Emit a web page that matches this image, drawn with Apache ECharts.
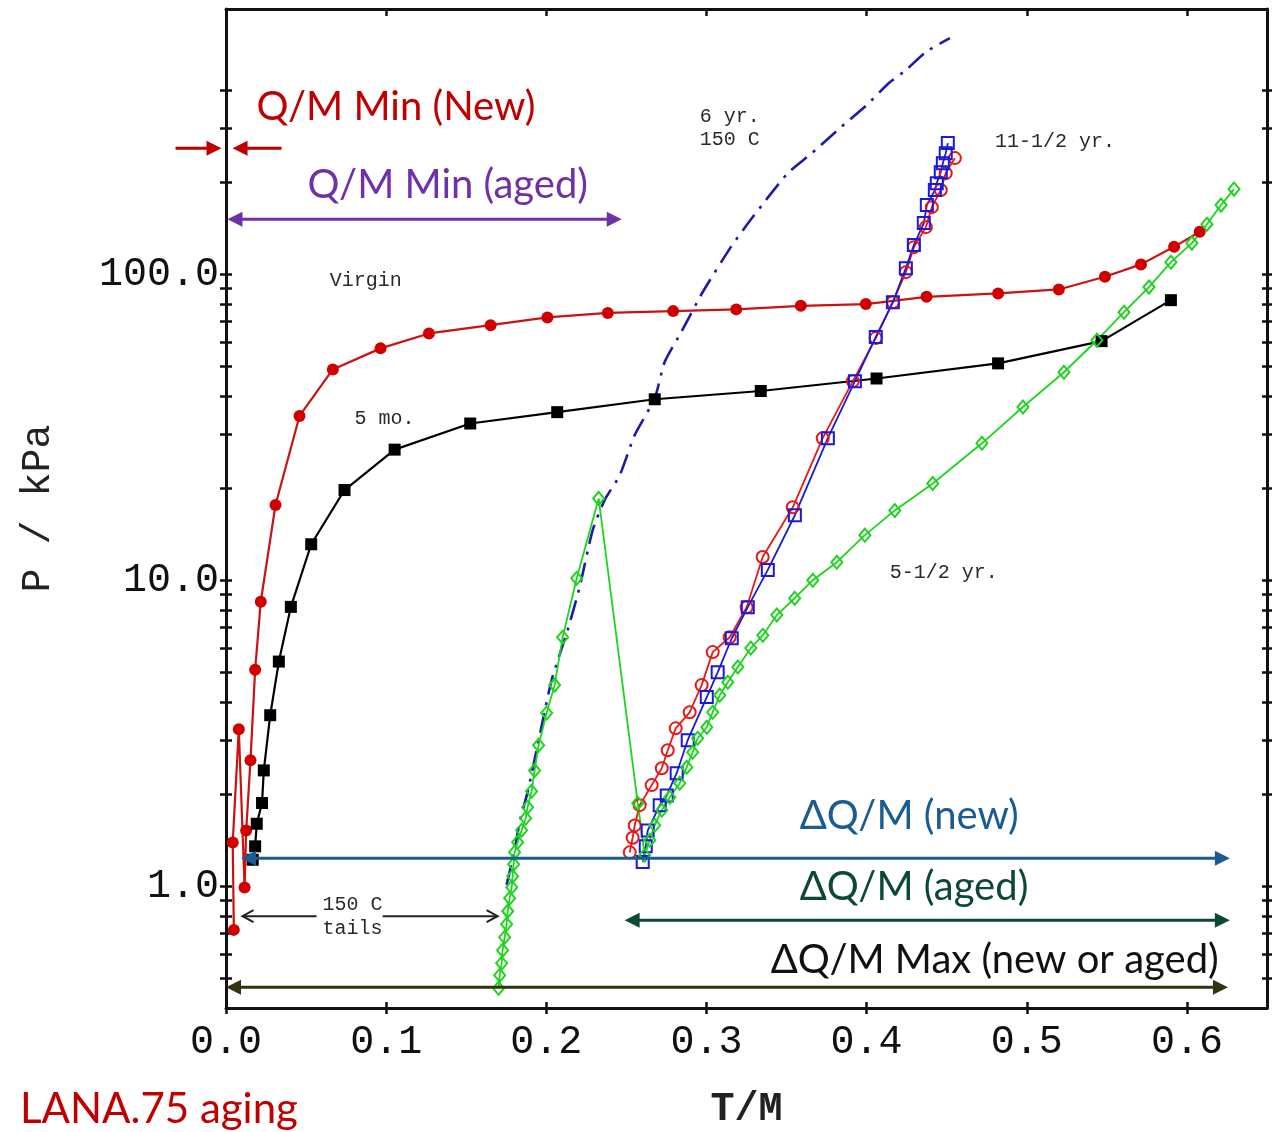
<!DOCTYPE html>
<html>
<head>
<meta charset="utf-8">
<title>LANA.75 aging</title>
<script src="https://cdn.jsdelivr.net/npm/echarts@6/dist/echarts.min.js"></script>
<style>
  html, body { margin: 0; padding: 0; background: #fff; }
  #chart { width: 1286px; height: 1132px; }
</style>
</head>
<body>
<div id="chart"></div>
<script>
// Pressure (kPa, log scale) versus T/M for LaNi4.25Al0.75 samples of different age.

// Virgin material, filled circles  [T/M, P]
const virgin = [
  [0.0049, 0.72], [0.0042, 1.39], [0.0080, 3.26], [0.0116, 0.99], [0.0126, 1.52],
  [0.0153, 2.58], [0.0182, 5.1], [0.0217, 8.5], [0.0309, 17.6], [0.0459, 34.4],
  [0.0667, 48.8], [0.0965, 57.2], [0.1267, 64.0], [0.1652, 68.1], [0.2007, 72.2],
  [0.2384, 74.7], [0.2792, 75.7], [0.3186, 76.7], [0.3589, 78.8], [0.3995, 79.8],
  [0.4374, 84.3], [0.4821, 86.5], [0.5200, 89.1], [0.5488, 98.0], [0.5713, 107.6],
  [0.5920, 122.8], [0.6080, 137.5]
];

// 5 months, filled squares
const fiveMonths = [
  [0.0167, 1.22], [0.0182, 1.35], [0.0192, 1.60], [0.0225, 1.87], [0.0236, 2.39],
  [0.0276, 3.62], [0.0330, 5.42], [0.0405, 8.18], [0.0532, 13.1], [0.0740, 19.7],
  [0.1053, 26.7], [0.1525, 32.5], [0.2068, 35.4], [0.2677, 39.0], [0.3339, 41.5],
  [0.4062, 45.6], [0.4821, 51.1], [0.5467, 60.4], [0.5900, 82.2]
];

// 6 years at 150 C, dash-dot curve
const sixYears150C = [
  [0.1752, 1.01], [0.1802, 1.31], [0.1833, 1.62], [0.1883, 2.03], [0.1946, 2.89],
  [0.2033, 4.71], [0.2133, 6.87], [0.2208, 9.49], [0.2290, 14.6], [0.2365, 18.3],
  [0.2458, 22.0], [0.2552, 29.8], [0.2677, 39.3], [0.2739, 51.6], [0.2839, 64.2],
  [0.2977, 87.4], [0.3152, 122.5], [0.3289, 153.6], [0.3508, 213.8], [0.3658, 248.5],
  [0.3839, 302], [0.4001, 357], [0.4139, 421], [0.4245, 464], [0.4370, 532], [0.4520, 590]
];

// 11-1/2 years, open circles
const elevenYearsCircles = [
  [0.2521, 1.29], [0.2539, 1.44], [0.2552, 1.58], [0.2583, 1.84], [0.2658, 2.14],
  [0.2721, 2.43], [0.2758, 2.78], [0.2808, 3.28], [0.2895, 3.70], [0.2970, 4.54],
  [0.3039, 5.82], [0.3145, 6.51], [0.3251, 8.16], [0.3351, 11.9], [0.3539, 17.3],
  [0.3726, 29.1], [0.3914, 44.7], [0.4057, 61.8], [0.4164, 81.0], [0.4245, 101.5],
  [0.4295, 122.5], [0.4370, 142.4], [0.4407, 165.5], [0.4463, 188.2], [0.4494, 213.8],
  [0.4551, 239.4]
];

// 11-1/2 years, open squares
const elevenYearsSquares = [
  [0.2602, 1.20], [0.2621, 1.35], [0.2633, 1.52], [0.2708, 1.84], [0.2752, 1.98],
  [0.2814, 2.34], [0.2883, 3.00], [0.3002, 4.15], [0.3070, 5.00], [0.3158, 6.46],
  [0.3258, 8.16], [0.3383, 10.8], [0.3552, 16.3], [0.3758, 29.1], [0.3927, 44.7],
  [0.4057, 62.3], [0.4164, 81.0], [0.4245, 104.6], [0.4295, 124.4], [0.4357, 146.8],
  [0.4376, 168.1], [0.4426, 188.2], [0.4438, 198.3], [0.4463, 215.4], [0.4476, 230.5],
  [0.4494, 248.5], [0.4507, 268]
];

// 5-1/2 years, open diamonds
const fiveHalfYears = [
  [0.1702, 0.464], [0.1709, 0.512], [0.1721, 0.560], [0.1727, 0.618], [0.1740, 0.681],
  [0.1752, 0.751], [0.1759, 0.829], [0.1771, 0.914], [0.1784, 0.992], [0.1790, 1.078],
  [0.1796, 1.180], [0.1802, 1.291], [0.1821, 1.393], [0.1846, 1.524], [0.1871, 1.668],
  [0.1883, 1.812], [0.1908, 2.044], [0.1927, 2.39], [0.1952, 2.89], [0.2002, 3.68],
  [0.2052, 4.54], [0.2102, 6.51], [0.2190, 10.15], [0.2327, 18.5],
  [0.2571, 1.867], [0.2614, 1.263], [0.2646, 1.413], [0.2677, 1.582], [0.2721, 1.772],
  [0.2771, 1.954], [0.2833, 2.171], [0.2877, 2.448], [0.2914, 2.741], [0.2945, 3.045],
  [0.3002, 3.308], [0.3039, 3.704], [0.3083, 4.21], [0.3133, 4.64], [0.3196, 5.20],
  [0.3277, 6.00], [0.3352, 6.61], [0.3439, 7.69], [0.3551, 8.73], [0.3664, 10.0],
  [0.3814, 11.45], [0.3989, 14.03], [0.4176, 16.9], [0.4413, 20.7], [0.4720, 28.0],
  [0.4976, 36.8], [0.5232, 47.8], [0.5438, 60.8], [0.5607, 75.1], [0.5763, 90.7],
  [0.5900, 109.4], [0.6031, 126.3], [0.6125, 145.6], [0.6213, 168.1], [0.6294, 189.6]
];

// Axis ticks and labels
const xTickLabels = [0, 0.1, 0.2, 0.3, 0.4, 0.5, 0.6];
const xTicks = [0, 0.1, 0.2, 0.3, 0.4, 0.5, 0.6];
const yTickLabels = [1, 10, 100];
const yTicks = [0.5, 0.6, 0.7, 0.8, 0.9, 1, 2, 3, 4, 5, 6, 7, 8, 9,
                10, 20, 30, 40, 50, 60, 70, 80, 90, 100, 200, 300, 400];

// Range arrows drawn over the plot, in data units [T/M from, T/M to, P]
const rangeArrows = [
  { from: -0.0315, to: -0.0028, p: 258, heads: 'end', color: '#c00000' },
  { from: 0.0347, to: 0.0041, p: 258, heads: 'end', color: '#c00000' },
  { from: 0.0009, to: 0.2471, p: 151, heads: 'both', color: '#7030a8' },
  { from: 0.0094, to: 0.6268, p: 1.234, heads: 'both', color: '#1a5c91' },
  { from: 0.2489, to: 0.6268, p: 0.774, heads: 'both', color: '#0b4a30' },
  { from: 0.0000, to: 0.6256, p: 0.468, heads: 'both', color: '#33330f' },
  { from: 0.0565, to: 0.0103, p: 0.798, heads: 'end', color: '#222', open: true },
  { from: 0.0978, to: 0.1696, p: 0.798, heads: 'end', color: '#222', open: true }
];

// Curve labels (monospace) anchored at their left edge
const curveLabels = [
  { text: 'Virgin', x: 0.0648, p: 94.9 },
  { text: '5 mo.', x: 0.0803, p: 33.8 },
  { text: '6 yr.', x: 0.2958, p: 326 },
  { text: '150 C', x: 0.2958, p: 274 },
  { text: '11-1/2 yr.', x: 0.4801, p: 270 },
  { text: '5-1/2 yr.', x: 0.4144, p: 10.54 },
  { text: '150 C', x: 0.0603, p: 0.867 },
  { text: 'tails', x: 0.0603, p: 0.729 }
];

// Range captions
const rangeCaptions = [
  { text: 'Q/M Min (New)', x: 0.0190, p: 351, color: '#c00000' },
  { text: 'Q/M Min (aged)', x: 0.0509, p: 195.4, color: '#7030a8' },
  { text: '\u0394Q/M (new)', x: 0.3582, p: 1.693, color: '#1a5c91' },
  { text: '\u0394Q/M (aged)', x: 0.3582, p: 0.992, color: '#0b4a30' },
  { text: '\u0394Q/M Max (new or aged)', x: 0.3401, p: 0.573, color: '#111' }
];

const MONO = '"Liberation Mono", "DejaVu Sans Mono", monospace';
const SANS = 'Lato, "Noto Sans", "Open Sans", sans-serif';
const AXIS_COLOR = '#111';

const X_MIN = 0, X_MAX = 0.65;
const Y_MIN = 0.4, Y_MAX = 735;

function xAxisDef(extra) {
  return Object.assign({
    type: 'value', min: X_MIN, max: X_MAX, gridIndex: 0,
    splitLine: { show: false },
    axisLine: { show: false, onZero: false },
    axisLabel: { show: false },
    axisTick: { show: true, customValues: xTicks, length: 6, lineStyle: { color: AXIS_COLOR, width: 2.5 } }
  }, extra);
}
function yAxisDef(extra) {
  return Object.assign({
    type: 'log', logBase: 10, min: Y_MIN, max: Y_MAX, gridIndex: 0,
    splitLine: { show: false },
    axisLine: { show: false, onZero: false },
    axisLabel: { show: false },
    axisTick: { show: true, customValues: yTicks, length: 6, lineStyle: { color: AXIS_COLOR, width: 2.5 } }
  }, extra);
}

const option = {
  backgroundColor: '#fff',
  animation: false,
  grid: { left: 226, right: 19, top: 9, bottom: 124, containLabel: false, outerBoundsMode: 'none' },
  xAxis: [
    xAxisDef({
      position: 'bottom',
      axisLine: { show: true, onZero: false, lineStyle: { color: AXIS_COLOR, width: 3 } },
      axisTick: { show: true, inside: false, customValues: xTicks, length: 6, lineStyle: { color: AXIS_COLOR, width: 2.5 } },
      axisLabel: {
        show: true, customValues: xTickLabels, margin: 14,
        fontFamily: MONO, fontSize: 40, color: '#111',
        formatter: v => Number(v).toFixed(1)
      },
      name: 'T/M', nameLocation: 'middle', nameGap: 82,
      nameTextStyle: { fontFamily: MONO, fontSize: 40, fontWeight: 'bold', color: '#222' }
    }),
    xAxisDef({ position: 'bottom', axisTick: { show: true, inside: true, customValues: xTicks, length: 6, lineStyle: { color: AXIS_COLOR, width: 2.5 } } }),
    xAxisDef({
      position: 'top',
      axisLine: { show: true, onZero: false, lineStyle: { color: AXIS_COLOR, width: 3 } },
      axisTick: { show: true, inside: true, customValues: xTicks, length: 7, lineStyle: { color: AXIS_COLOR, width: 2.5 } }
    })
  ],
  yAxis: [
    yAxisDef({
      position: 'left',
      axisLine: { show: true, onZero: false, lineStyle: { color: AXIS_COLOR, width: 3 } },
      axisTick: { show: true, inside: false, customValues: yTicks, length: 6, lineStyle: { color: AXIS_COLOR, width: 2.5 } },
      axisLabel: {
        show: true, customValues: yTickLabels, margin: 7,
        fontFamily: MONO, fontSize: 40, color: '#111',
        formatter: v => Number(v).toFixed(1)
      },
      name: 'P / kPa', nameLocation: 'middle', nameRotate: 90, nameGap: 168,
      nameTextStyle: { fontFamily: MONO, fontSize: 40, color: '#222' }
    }),
    yAxisDef({ position: 'left', axisTick: { show: true, inside: true, customValues: yTicks, length: 6, lineStyle: { color: AXIS_COLOR, width: 2.5 } } }),
    yAxisDef({
      position: 'right',
      axisLine: { show: true, onZero: false, lineStyle: { color: AXIS_COLOR, width: 3 } },
      axisTick: { show: true, inside: true, customValues: yTicks, length: 5, lineStyle: { color: AXIS_COLOR, width: 2.5 } }
    }),
    yAxisDef({ position: 'right', axisTick: { show: true, inside: false, customValues: yTicks, length: 5, lineStyle: { color: AXIS_COLOR, width: 2.5 } } })
  ],
  series: [
    {
      name: 'Virgin', type: 'line', data: virgin, xAxisIndex: 0, yAxisIndex: 0,
      symbol: 'circle', symbolSize: 12,
      itemStyle: { color: '#d00000' },
      lineStyle: { color: '#cc1111', width: 2.2 }
    },
    {
      name: '5 mo.', type: 'line', data: fiveMonths, xAxisIndex: 0, yAxisIndex: 0,
      symbol: 'rect', symbolSize: 12,
      itemStyle: { color: '#000' },
      lineStyle: { color: '#000', width: 2.2 }
    },
    {
      name: '6 yr. 150 C', type: 'line', data: sixYears150C, xAxisIndex: 0, yAxisIndex: 0,
      symbol: 'none', smooth: 0.2,
      lineStyle: { color: '#1c1ca6', width: 2.6, type: [20, 8, 3, 8] }
    },
    {
      name: '11-1/2 yr. (circles)', type: 'line', data: elevenYearsCircles, xAxisIndex: 0, yAxisIndex: 0,
      symbol: 'circle', symbolSize: 12,
      itemStyle: { color: 'rgba(0,0,0,0)', borderColor: '#e81818', borderWidth: 2 },
      lineStyle: { color: '#e81818', width: 1.8 }
    },
    {
      name: '11-1/2 yr. (squares)', type: 'line', data: elevenYearsSquares, xAxisIndex: 0, yAxisIndex: 0,
      symbol: 'rect', symbolSize: 12,
      itemStyle: { color: 'rgba(0,0,0,0)', borderColor: '#1a1ad8', borderWidth: 2 },
      lineStyle: { color: '#1a1ad8', width: 1.8 }
    },
    {
      name: '5-1/2 yr.', type: 'line', data: fiveHalfYears, xAxisIndex: 0, yAxisIndex: 0,
      symbol: 'diamond', symbolSize: [11, 13],
      itemStyle: { color: 'rgba(0,0,0,0)', borderColor: '#1ed41e', borderWidth: 2 },
      lineStyle: { color: '#1ed41e', width: 1.8 }
    }
  ]
};

const chart = echarts.init(document.getElementById('chart'), null, { renderer: 'canvas' });
chart.setOption(option);

// Overlay arrows and captions, positioned through the chart's own axes
function toPx(x, p) {
  return chart.convertToPixel({ xAxisIndex: 0, yAxisIndex: 0 }, [x, p]);
}

function arrowElements(a) {
  const els = [];
  const s = toPx(a.from, a.p), e = toPx(a.to, a.p);
  const len = a.open ? 11 : 15, half = a.open ? 6 : 7.5;
  const lw = a.open ? 2 : 3;
  const dir = Math.sign(e[0] - s[0]) || 1;
  let x1 = s[0], x2 = e[0];
  const y = s[1];
  const head = (tipX, d) => {
    if (a.open) {
      els.push({ type: 'polyline', silent: true, z: 100,
        shape: { points: [[tipX - d * len, y - half], [tipX, y], [tipX - d * len, y + half]] },
        style: { stroke: a.color, lineWidth: lw, fill: null } });
    } else {
      els.push({ type: 'polygon', silent: true, z: 100,
        shape: { points: [[tipX, y], [tipX - d * len, y - half], [tipX - d * len, y + half]] },
        style: { fill: a.color } });
    }
  };
  if (a.heads === 'end' || a.heads === 'both') {
    head(x2, dir);
    if (!a.open) x2 -= dir * (len - 2);
  }
  if (a.heads === 'both') {
    head(x1, -dir);
    x1 += dir * (len - 2);
  }
  els.unshift({ type: 'line', silent: true, z: 99,
    shape: { x1: x1, y1: y, x2: x2, y2: y },
    style: { stroke: a.color, lineWidth: lw } });
  return els;
}

const overlay = [];
rangeArrows.forEach(a => overlay.push(...arrowElements(a)));
curveLabels.forEach(t => {
  const pt = toPx(t.x, t.p);
  overlay.push({ type: 'text', silent: true, z: 101, x: pt[0], y: pt[1],
    style: { text: t.text, fontFamily: MONO, fontSize: 20, fill: '#2a2a2a', align: 'left', verticalAlign: 'middle' } });
});
rangeCaptions.forEach(t => {
  const pt = toPx(t.x, t.p);
  overlay.push({ type: 'text', silent: true, z: 101, x: pt[0], y: pt[1],
    style: { text: t.text, fontFamily: SANS, fontSize: 40, fill: t.color, align: 'left', verticalAlign: 'middle' } });
});
overlay.push({ type: 'text', silent: true, z: 101, left: 20, top: 1088,
  style: { text: 'LANA.75 aging', fontFamily: SANS, fontSize: 42, fill: '#c00000' } });

chart.setOption({ graphic: overlay });
</script>
</body>
</html>
